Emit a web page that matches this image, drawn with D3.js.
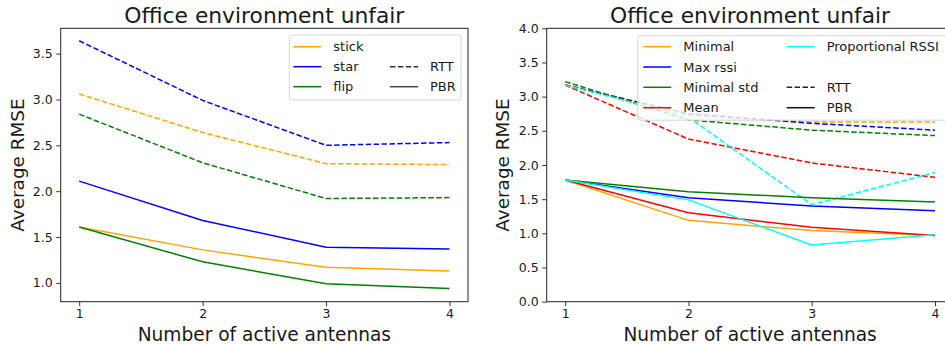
<!DOCTYPE html>
<html>
<head>
<meta charset="utf-8">
<script src="https://cdn.jsdelivr.net/npm/d3@7"></script>
<style>
  body { margin: 0; background: #fff; }
  svg text { font-family: "DejaVu Sans", sans-serif; fill: #1a1a1a; }
  .legendText { font-size: 13px; }
  .tickText { font-size: 12.5px; }
</style>
</head>
<body>
<div id="chart"></div>
<script>
// x values shared by both panels
var antennas = [1, 2, 3, 4];

// left panel: tag orientations
var leftNames = ["stick", "star", "flip"];
var leftColors = ["orange", "blue", "green"];
var leftRTT = [
  [3.06, 2.64, 2.30, 2.29],
  [3.64, 2.99, 2.50, 2.53],
  [2.84, 2.31, 1.92, 1.93]
];
var leftPBR = [
  [1.61, 1.36, 1.17, 1.13],
  [2.11, 1.68, 1.39, 1.37],
  [1.61, 1.23, 0.99, 0.94]
];
var leftYTicks = [1.0, 1.5, 2.0, 2.5, 3.0, 3.5];

// right panel: antenna selection methods
var rightNames = ["Minimal", "Max rssi", "Minimal std", "Mean", "Proportional RSSI"];
var rightColors = ["orange", "blue", "green", "red", "cyan"];
var rightRTT = [
  [3.18, 2.72, 2.63, 2.63],
  [3.17, 2.75, 2.61, 2.51],
  [3.22, 2.66, 2.51, 2.43],
  [3.17, 2.38, 2.03, 1.82],
  [3.17, 2.70, 1.42, 1.89]
];
var rightPBR = [
  [1.78, 1.19, 1.04, 0.97],
  [1.78, 1.52, 1.40, 1.33],
  [1.78, 1.61, 1.52, 1.46],
  [1.78, 1.30, 1.09, 0.97],
  [1.78, 1.49, 0.83, 0.98]
];
var rightYTicks = [0.0, 0.5, 1.0, 1.5, 2.0, 2.5, 3.0, 3.5, 4.0];

var titleText = "Office environment unfair";
var xLabel = "Number of active antennas";
var yLabel = "Average RMSE";

var svg = d3.select("#chart").append("svg")
    .attr("width", 945)
    .attr("height", 345);

/**
 * Draws one panel: axes, lines, labels and legend
 */
function drawPanel(opt){
    var g = svg.append("g");
    var left = opt.left, right = opt.right, top = 28.3, bottom = 301.7;

    var x = d3.scaleLinear().domain([0.85, 4.15]).range([left, right]);
    var y = d3.scaleLinear().domain(opt.yDomain).range([bottom, top]);

    var line = d3.line()
        .x(function(d, i) {return x(antennas[i]);})
        .y(function(d) {return y(d);});

    // dashed RTT lines first, then solid PBR
    opt.rtt.forEach(function(vals, i){
        g.append("path").datum(vals)
            .attr("d", line)
            .attr("fill", "none")
            .attr("stroke", opt.colors[i])
            .attr("stroke-width", 1.5)
            .attr("stroke-dasharray", "5.5,2.4");
    });
    opt.pbr.forEach(function(vals, i){
        g.append("path").datum(vals)
            .attr("d", line)
            .attr("fill", "none")
            .attr("stroke", opt.colors[i])
            .attr("stroke-width", 1.5);
    });

    // axes
    var xAxis = d3.axisBottom(x).tickValues(antennas).tickSize(4.5).tickPadding(3)
        .tickFormat(d3.format("d"));
    var yAxis = d3.axisLeft(y).tickValues(opt.yTicks).tickSize(4.5).tickPadding(3.5)
        .tickFormat(d3.format(".1f"));

    var gx = g.append("g").attr("transform", "translate(0," + bottom + ")").call(xAxis);
    var gy = g.append("g").attr("transform", "translate(" + left + ",0)").call(yAxis);
    [gx, gy].forEach(function(a){
        a.select(".domain").remove();
        a.selectAll("line").attr("stroke", "#222").attr("stroke-width", 0.9);
        a.selectAll("text").attr("class", "tickText").attr("fill", "#1a1a1a");
    });

    // frame
    g.append("rect")
        .attr("x", left).attr("y", top)
        .attr("width", right - left).attr("height", bottom - top)
        .attr("fill", "none")
        .attr("stroke", "#222")
        .attr("stroke-width", 1);

    // title + labels
    g.append("text")
        .attr("x", (left + right) / 2).attr("y", 22.5)
        .attr("text-anchor", "middle")
        .style("font-size", "21.8px")
        .text(titleText);
    g.append("text")
        .attr("x", (left + right) / 2).attr("y", 341)
        .attr("text-anchor", "middle")
        .style("font-size", "18.6px")
        .text(xLabel);
    g.append("text")
        .attr("transform", "translate(" + opt.yLabelX + "," + ((top + bottom) / 2) + ") rotate(-90)")
        .attr("text-anchor", "middle")
        .style("font-size", "18.4px")
        .text(yLabel);

    // legend
    var lg = g.append("g");
    lg.append("rect")
        .attr("x", opt.legend.x).attr("y", opt.legend.y)
        .attr("width", opt.legend.w).attr("height", opt.legend.h)
        .attr("rx", 3)
        .attr("fill", "white").attr("fill-opacity", 0.8)
        .attr("stroke", "#d6d6d6").attr("stroke-width", 1);

    opt.legendItems.forEach(function(item){
        if (!item) return;
        var hx = opt.legend.colX[item.col];
        var ry = opt.legend.rowY[item.row];
        lg.append("line")
            .attr("x1", hx).attr("x2", hx + 28)
            .attr("y1", ry).attr("y2", ry)
            .attr("stroke", item.color)
            .attr("stroke-width", 1.5)
            .attr("stroke-dasharray", item.dashed ? "5.5,2.4" : null);
        lg.append("text")
            .attr("class", "legendText")
            .attr("x", hx + 40).attr("y", ry + 4.6)
            .text(item.name);
    });
}

var leftItems = leftNames.map(function(n, i){
    return {name: n, color: leftColors[i], col: 0, row: i};
});
leftItems.push({name: "RTT", color: "#333", dashed: true, col: 1, row: 1});
leftItems.push({name: "PBR", color: "#444", col: 1, row: 2});

drawPanel({
    left: 60.7, right: 468,
    yDomain: [0.795, 3.776],
    yTicks: leftYTicks,
    colors: leftColors,
    rtt: leftRTT, pbr: leftPBR,
    yLabelX: 23.5,
    legend: {x: 289.3, y: 35, w: 171.7, h: 65, colX: [293.3, 390], rowY: [46.7, 66.7, 86.7]},
    legendItems: leftItems
});

var rightItems = rightNames.map(function(n, i){
    return i < 4 ? {name: n, color: rightColors[i], col: 0, row: i}
                 : {name: n, color: rightColors[i], col: 1, row: 0};
});
rightItems.push({name: "RTT", color: "#222", dashed: true, col: 1, row: 2});
rightItems.push({name: "PBR", color: "#111", col: 1, row: 3});

drawPanel({
    left: 546.7, right: 953.5,
    yDomain: [0, 4],
    yTicks: rightYTicks,
    colors: rightColors,
    rtt: rightRTT, pbr: rightPBR,
    yLabelX: 509,
    legend: {x: 637.7, y: 35.7, w: 330, h: 84.5, colX: [643.3, 786.7], rowY: [46.7, 67, 87.3, 107.7]},
    legendItems: rightItems
});
</script>
</body>
</html>
